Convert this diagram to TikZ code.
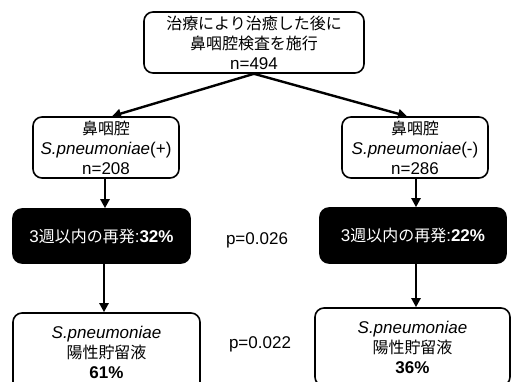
\documentclass[tikz,border=0pt]{standalone}
\usepackage{fontspec}
\setmainfont{Liberation Sans}
\newfontfamily\jp{Noto Sans CJK JP}[Scale=0.94]
\usetikzlibrary{arrows.meta}
\tikzset{
  box/.style={draw, line width=1.6pt, rounded corners=9pt, align=center,
    font=\fontsize{17}{20}\selectfont, inner sep=0pt},
  blackbox/.style={box, fill=black, text=white},
  conn/.style={-{Triangle[length=9pt,width=9pt]}, line width=2.4pt}
}
\begin{document}
\begin{tikzpicture}[x=1pt,y=-1pt]
    \clip (0,0) rectangle (512,382);
    \node[box, minimum width=220pt, minimum height=61pt] (T) at (254,42.5)
    {{\jp 治療により治癒した後に}\\{\jp 鼻咽腔検査を施行}\\n=494};
    \node[box, minimum width=146pt, minimum height=61pt] (P) at (106,147.5)
    {{\jp 鼻咽腔}\\\textit{S.pneumoniae}(+)\\n=208};
    \node[box, minimum width=146pt, minimum height=61pt] (N) at (415,147.5)
    {{\jp 鼻咽腔}\\\textit{S.pneumoniae}(-)\\n=286};
    \node[blackbox, minimum width=177pt, minimum height=54pt] (RP) at (101.5,236)
    {3{\jp 週以内の再発}:\textbf{32\%}};
    \node[blackbox, minimum width=186pt, minimum height=55pt] (RN) at (413,235.5)
    {3{\jp 週以内の再発}:\textbf{22\%}};
    \node[box, minimum width=187pt, minimum height=78pt] (SP) at (106.5,352)
    {\textit{S.pneumoniae}\\{\jp 陽性貯留液}\\\textbf{61\%}};
    \node[box, minimum width=195pt, minimum height=78pt] (SN) at (412.5,347)
    {\textit{S.pneumoniae}\\{\jp 陽性貯留液}\\\textbf{36\%}};
    \node[font=\fontsize{17}{20}\selectfont] (p1) at (257,240) {p=0.026};
    \node[font=\fontsize{17}{20}\selectfont] (p2) at (260,344) {p=0.022};
    \draw[conn] (T.south) -- ([xshift=6pt]P.north);
    \draw[conn] (T.south) -- ([xshift=-8pt]N.north);
    \draw[conn] ([xshift=-1pt]P.south) -- ([xshift=-1pt]P.south |- RP.north);
    \draw[conn] ([xshift=-2pt]P.south |- RP.south) -- ([xshift=-2pt]P.south |- SP.north);
    \draw[conn] ([xshift=1pt]N.south) -- ([xshift=1pt]N.south |- RN.north);
    \draw[conn] ([xshift=1pt]N.south |- RN.south) -- ([xshift=1pt]N.south |- SN.north);
  \end{tikzpicture}
\end{document}
